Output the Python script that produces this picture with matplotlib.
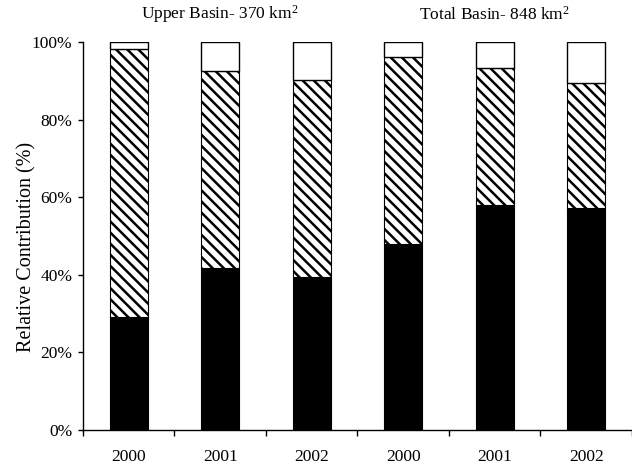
import numpy as np
import matplotlib
matplotlib.use("Agg")
import matplotlib.pyplot as plt
from matplotlib.ticker import FuncFormatter

plt.rcParams['font.family'] = ['Liberation Serif', 'DejaVu Serif']
plt.rcParams['mathtext.fontset'] = 'custom'
plt.rcParams['mathtext.rm'] = 'Liberation Serif'
plt.rcParams['mathtext.it'] = 'Liberation Serif:italic'
plt.rcParams['hatch.linewidth'] = 1.8

# data (percent)
years = ['2000', '2001', '2002', '2000', '2001', '2002']
black_part = [29.2, 41.9, 39.5, 47.9, 58.1, 57.2]
hatch_top = [98.3, 92.7, 90.3, 96.1, 93.3, 89.5]
groups = ['Upper Basin- 370 km$^2$', 'Total Basin- 848 km$^2$']

hatch_part = [h - b for h, b in zip(hatch_top, black_part)]
white_part = [100 - h for h in hatch_top]

fig = plt.figure(figsize=(6.32, 4.67), dpi=100)
ax = fig.add_axes([0.1313, 0.0792, 0.8687, 0.8302])

x = np.arange(len(years))
w = 0.42
ax.bar(x, black_part, w, color='black', edgecolor='black', linewidth=0.8)
ax.bar(x, hatch_part, w, bottom=black_part, color='white', edgecolor='black',
       hatch='\\\\\\', linewidth=0.8)
ax.bar(x, white_part, w, bottom=hatch_top, color='white', edgecolor='black',
       linewidth=1.0)

ax.set_xlim(-0.5, len(years) - 0.5)
ax.set_ylim(0, 100)

ax.spines['top'].set_visible(False)
ax.spines['right'].set_visible(False)
ax.spines['left'].set_linewidth(1.0)
ax.spines['bottom'].set_linewidth(1.0)

# tick marks between bars, year labels under the bars
ax.set_xticks(np.arange(-0.5, len(years), 1.0))
ax.set_xticklabels([])
ax.set_xticks(x, minor=True)
ax.set_xticklabels(years, minor=True, fontsize=12.5)
ax.tick_params(axis='x', which='major', direction='out', length=4, width=1.0)
ax.tick_params(axis='x', which='minor', length=0, pad=14)

ax.set_yticks(np.arange(0, 101, 20))
ax.yaxis.set_major_formatter(FuncFormatter(lambda v, p: '%d%%' % v))
ax.tick_params(axis='y', direction='out', length=3.5, width=1.0, pad=4,
               labelsize=12.5)

ax.set_ylabel('Relative Contribution (%)', fontsize=14.5)
ax.yaxis.set_label_coords(-0.084, 0.472)

for i, g in enumerate(groups):
    ax.text(1 + 3 * i, 1.072, g, transform=ax.get_xaxis_transform(),
            ha='center', va='center', fontsize=12.5)

fig.savefig('out.png', dpi=100)
